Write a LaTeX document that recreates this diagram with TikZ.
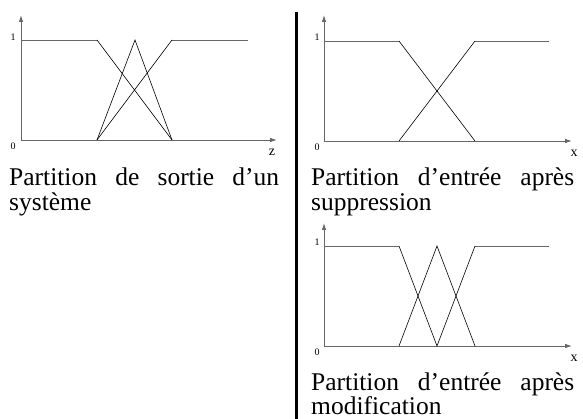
\documentclass[tikz,border=0pt]{standalone}
\usepackage{fontspec}
\setmainfont{Liberation Serif}
\usetikzlibrary{arrows.meta}
\newcommand\capfont{\fontsize{25.5}{24.5}\selectfont\hyphenpenalty=10000\relax\exhyphenpenalty=10000\relax\tolerance=10000\relax}
\begin{document}
\begin{tikzpicture}[x=1pt,y=-1pt,
  axis/.style={draw=black!60, line width=0.9pt, -{Latex[length=7pt,width=4.5pt]}},
  flat/.style={draw=black!60, line width=0.9pt},
  slope/.style={draw=black, line width=0.6pt},
  tick/.style={font=\fontsize{10}{10}\selectfont, inner sep=0pt},
  axlab/.style={font=\fontsize{14}{14}\selectfont, inner sep=0pt},
  caption/.style={font=\capfont, inner sep=0pt, text width=#1, align=justify, anchor=base west}]
\useasboundingbox (0,0) rectangle (583,419);
% separator
\draw[line width=3pt] (296,12) -- (296,419);
% ---------- left panel (z)
\draw[axis] (21,140) -- (21,15);
\draw[axis] (21,140) -- (277,140);
\draw[flat] (21,40) -- (97,40);
\draw[flat] (172,40) -- (248,40);
\draw[slope] (97,40) -- (172,140);
\draw[slope] (97,140) -- (135,40) -- (172,140);
\draw[slope] (97,140) -- (172,40);
\node[tick] (l1) at (13,37) {1};
\node[tick] (l0) at (13,146) {0};
\node[axlab] (lz) at (272,152) {z};
\node[caption=270pt] (lc) at (9,186) {Partition de sortie d’un système};
% ---------- right top panel (x)
\draw[axis] (324,141) -- (324,15);
\draw[axis] (324,141) -- (572,141);
\draw[flat] (324,41) -- (399,41);
\draw[flat] (475,41) -- (549,41);
\draw[slope] (399,41) -- (475,141);
\draw[slope] (399,141) -- (475,41);
\node[tick] (r1) at (317,37) {1};
\node[tick] (r0) at (317,147) {0};
\node[axlab] (rx) at (574,153) {x};
\node[caption=263pt] (rc) at (311,186) {Partition d’entrée après suppression};
% ---------- right bottom panel (x)
\draw[axis] (324,346) -- (324,223);
\draw[axis] (324,346) -- (572,346);
\draw[flat] (324,246) -- (399,246);
\draw[flat] (475,246) -- (549,246);
\draw[slope] (399,246) -- (437,346) -- (475,246);
\draw[slope] (399,346) -- (437,246) -- (475,346);
\node[tick] (b1) at (317,242) {1};
\node[tick] (b0) at (317,352) {0};
\node[axlab] (bx) at (574,358) {x};
\node[caption=263pt] (bc) at (311,390) {Partition d’entrée après modification};
\end{tikzpicture}
\end{document}
